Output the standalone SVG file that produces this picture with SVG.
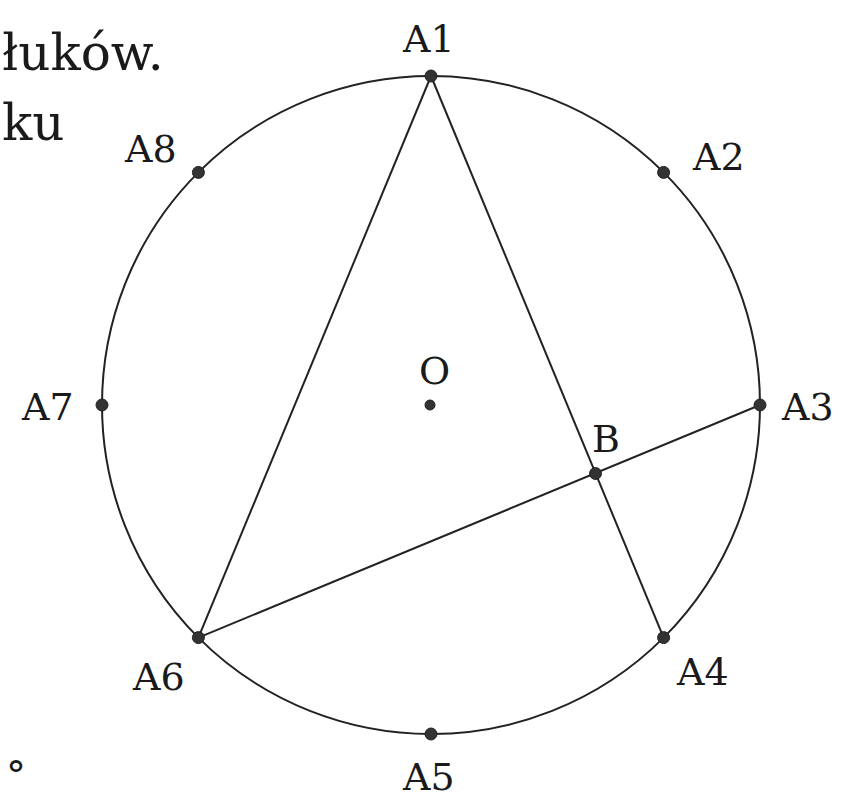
<svg xmlns="http://www.w3.org/2000/svg" width="858" height="800" viewBox="0 0 858 800">
<style>
.ln{fill:none;stroke:#222;stroke-width:2}
.pt{fill:#333;stroke:#222;stroke-width:1}
text{font-family:'DejaVu Serif','Liberation Serif',serif;fill:#1a1a1a}
.lb{font-size:38px}
.tx{font-size:50px}
</style>
<rect width="858" height="800" fill="#fff"/>
<text class="tx" x="2" y="70">łuków.</text>
<text class="tx" x="2" y="140">ku</text>
<text x="6" y="789" font-size="40">°</text>
<g id="circle"><circle class="ln" cx="431" cy="405" r="329"/></g>
<g id="connectors">
<line class="ln" x1="431" y1="76" x2="198.4" y2="637.6"/>
<line class="ln" x1="431" y1="76" x2="663.6" y2="637.6"/>
<line class="ln" x1="198.4" y1="637.6" x2="760" y2="405"/>
</g>
<g id="A1"><circle class="pt" cx="431" cy="76" r="6"/><text class="lb" x="403" y="52">A1</text></g>
<g id="A2"><circle class="pt" cx="663.6" cy="172.4" r="6"/><text class="lb" x="693" y="170">A2</text></g>
<g id="A3"><circle class="pt" cx="760" cy="405" r="6"/><text class="lb" x="782" y="420">A3</text></g>
<g id="A4"><circle class="pt" cx="663.6" cy="637.6" r="6"/><text class="lb" x="677" y="685">A4</text></g>
<g id="A5"><circle class="pt" cx="431" cy="734" r="6"/><text class="lb" x="403" y="790">A5</text></g>
<g id="A6"><circle class="pt" cx="198.4" cy="637.6" r="6"/><text class="lb" x="133" y="690">A6</text></g>
<g id="A7"><circle class="pt" cx="102" cy="405" r="6"/><text class="lb" x="22" y="420">A7</text></g>
<g id="A8"><circle class="pt" cx="198.4" cy="172.4" r="6"/><text class="lb" x="125" y="162">A8</text></g>
<g id="O"><circle class="pt" cx="430" cy="405" r="5"/><text class="lb" x="419" y="384">O</text></g>
<g id="B"><circle class="pt" cx="595.5" cy="473.5" r="6"/><text class="lb" x="592" y="452">B</text></g>
</svg>
